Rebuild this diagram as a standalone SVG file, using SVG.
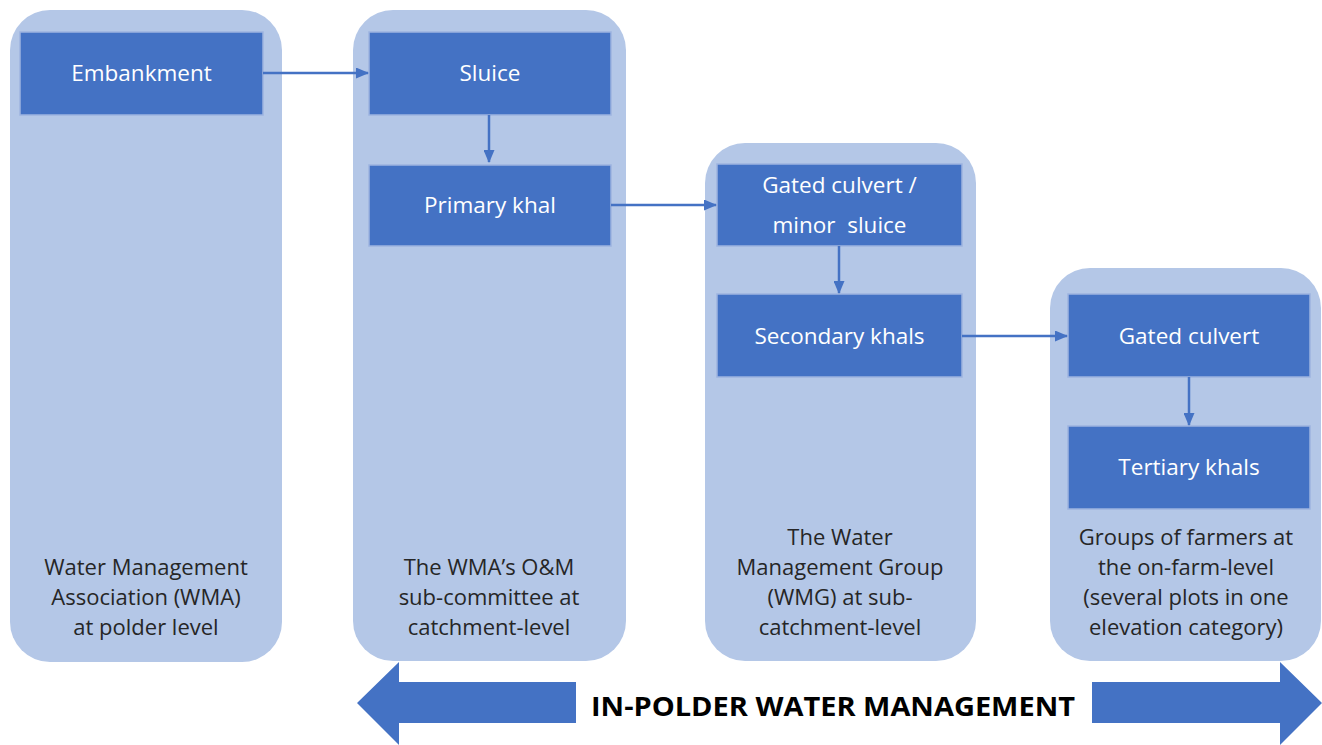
<svg xmlns="http://www.w3.org/2000/svg" width="1322" height="745" viewBox="0 0 1322 745">
<defs>
<style>
.col{fill:#B4C7E7;}
.box{fill:#4472C4;stroke:#9DB4E0;stroke-width:1.5;}
.bt{font-family:"Open Sans","Liberation Sans",sans-serif;font-size:22.5px;fill:#FFFFFF;text-anchor:middle;white-space:pre;}
.lt{font-family:"Open Sans","Liberation Sans",sans-serif;font-size:22px;fill:#262626;text-anchor:middle;}
.conn{stroke:#4472C4;stroke-width:2.5;fill:none;marker-end:url(#ah);}
.big{fill:#4472C4;}
</style>
<marker id="ah" markerWidth="13" markerHeight="11" refX="12" refY="5.5" orient="auto" markerUnits="userSpaceOnUse">
<path d="M0,0 L13,5.5 L0,11 Z" fill="#4472C4"/>
</marker>
</defs>
<rect width="1322" height="745" fill="#FFFFFF"/>

<g id="col1">
<rect class="col" x="10" y="10" width="272" height="652" rx="40" ry="40"/>
<text class="lt" x="146" y="575">Water Management</text>
<text class="lt" x="146" y="605">Association (WMA)</text>
<text class="lt" x="146" y="635">at polder level</text>
</g>
<g id="col2">
<rect class="col" x="353" y="10" width="273" height="651" rx="40" ry="40"/>
<text class="lt" x="489" y="575">The WMA’s O&amp;M</text>
<text class="lt" x="489" y="605">sub-committee at</text>
<text class="lt" x="489" y="635">catchment-level</text>
</g>
<g id="col3">
<rect class="col" x="705" y="143" width="271" height="518" rx="40" ry="40"/>
<text class="lt" x="840" y="545">The Water</text>
<text class="lt" x="840" y="575">Management Group</text>
<text class="lt" x="840" y="605">(WMG) at sub-</text>
<text class="lt" x="840" y="635">catchment-level</text>
</g>
<g id="col4">
<rect class="col" x="1050" y="268" width="271" height="393" rx="40" ry="40"/>
<text class="lt" x="1186" y="545">Groups of farmers at</text>
<text class="lt" x="1186" y="575">the on-farm-level</text>
<text class="lt" x="1186" y="605">(several plots in one</text>
<text class="lt" x="1186" y="635">elevation category)</text>
</g>

<g id="embankment">
<rect class="box" x="20" y="32" width="243" height="83"/>
<text class="bt" x="141.5" y="81">Embankment</text>
</g>
<g id="sluice">
<rect class="box" x="369" y="32" width="242" height="83"/>
<text class="bt" x="490" y="81">Sluice</text>
</g>
<g id="primary">
<rect class="box" x="369" y="165" width="242" height="81"/>
<text class="bt" x="490" y="213">Primary khal</text>
</g>
<g id="gated-minor">
<rect class="box" x="717" y="164" width="245" height="82"/>
<text class="bt" x="839.5" y="193">Gated culvert /</text>
<text class="bt" x="839.5" y="233">minor  sluice</text>
</g>
<g id="secondary">
<rect class="box" x="717" y="294" width="245" height="83"/>
<text class="bt" x="839.5" y="344">Secondary khals</text>
</g>
<g id="gated">
<rect class="box" x="1068" y="294" width="242" height="83"/>
<text class="bt" x="1189" y="344">Gated culvert</text>
</g>
<g id="tertiary">
<rect class="box" x="1068" y="426" width="242" height="83"/>
<text class="bt" x="1189" y="475">Tertiary khals</text>
</g>

<g id="connectors">
<line class="conn" x1="263" y1="73" x2="368" y2="73"/>
<line class="conn" x1="489" y1="115" x2="489" y2="162"/>
<line class="conn" x1="611" y1="205" x2="716" y2="205"/>
<line class="conn" x1="839" y1="246" x2="839" y2="293"/>
<line class="conn" x1="962" y1="336" x2="1067" y2="336"/>
<line class="conn" x1="1189" y1="377" x2="1189" y2="425"/>
</g>

<g id="in-polder">
<polygon class="big" points="357,703 399,662 399,682 576,682 576,723 399,723 399,745 357,703"/>
<polygon class="big" points="1322,703 1280,662 1280,682 1092,682 1092,723 1280,723 1280,745 1322,703"/>
<text x="833" y="716" font-family="'Open Sans','Liberation Sans',sans-serif" font-weight="bold" font-size="27" fill="#000000" text-anchor="middle" textLength="484" lengthAdjust="spacingAndGlyphs">IN-POLDER WATER MANAGEMENT</text>
</g>
</svg>
